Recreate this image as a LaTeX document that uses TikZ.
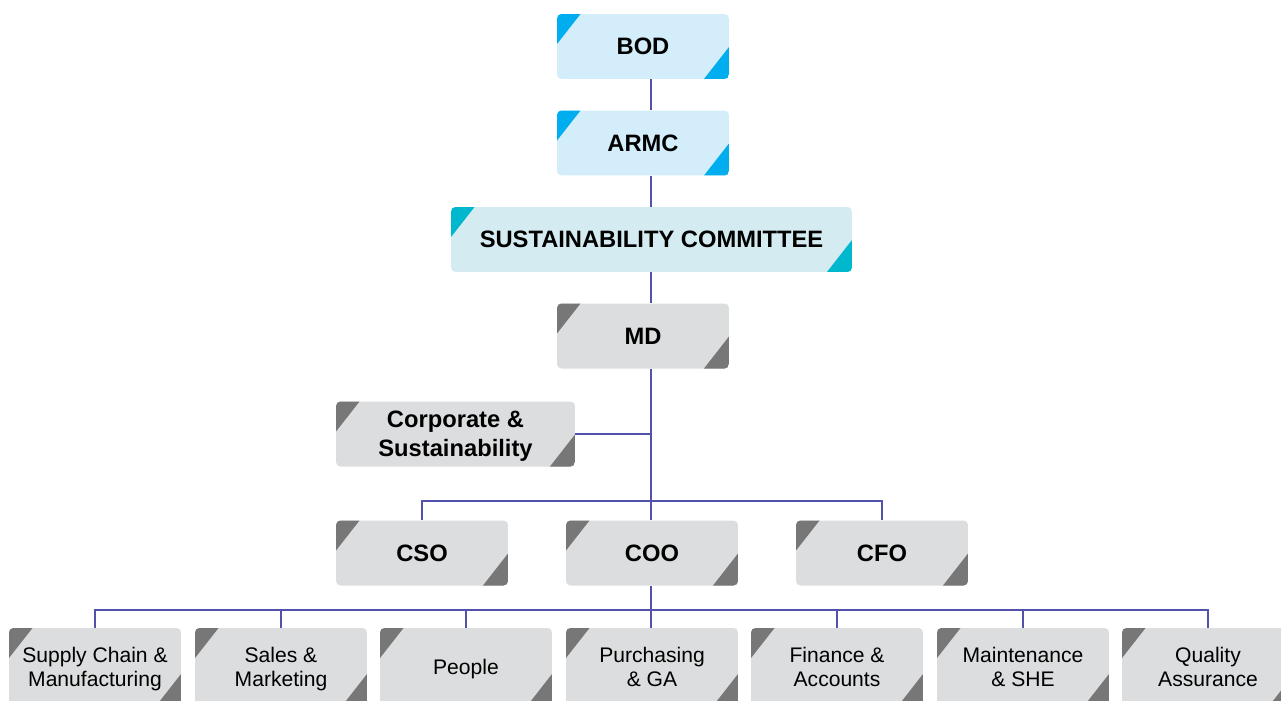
\documentclass[tikz,border=0pt]{standalone}
\usepackage{fontspec}
\setmainfont{Liberation Sans}
\usepackage{tikz}
\usetikzlibrary{positioning}
\usepackage{xcolor}

\definecolor{boardfill}{HTML}{D3EEFA}
\definecolor{boardcorner}{HTML}{00AEEF}
\definecolor{comfill}{HTML}{D4ECF1}
\definecolor{comcorner}{HTML}{00B8CE}
\definecolor{mgmtfill}{HTML}{DCDDDE}
\definecolor{mgmtcorner}{HTML}{777777}
\definecolor{linkblue}{HTML}{5252AA}

\tikzset{
    unit/.style={rectangle, rounded corners=2.5pt, inner sep=0pt, align=center,
        minimum width=3.44cm, minimum height=1.3cm,
        font=\fontsize{13.5}{16.4}\selectfont\bfseries,
        path picture={
            \fill[#1, sharp corners] (path picture bounding box.north west)
                -- ++(0.47cm,0) -- ++(-0.47cm,-0.6cm) -- cycle;
            \fill[#1, sharp corners] (path picture bounding box.south east)
                -- ++(-0.5cm,0) -- ++(0.5cm,0.64cm) -- cycle;
        }},
    board/.style={unit=boardcorner, fill=boardfill},
    committee/.style={unit=comcorner, fill=comfill},
    mgmt/.style={unit=mgmtcorner, fill=mgmtfill},
    dept/.style={mgmt, minimum height=1.56cm, text depth=0pt,
        font=\fontsize{12}{13.6}\selectfont},
    link/.style={draw=linkblue, line width=0.85pt}
}

\begin{document}
\begin{tikzpicture}[x=0.02cm, y=-0.02cm]
    \useasboundingbox (0,0) rectangle (1281,700);
    \clip (0,0) rectangle (1281,700);

    % Board level
    \node[board] (bod) at (643, 46.5) {BOD};
    \node[board] (armc) at (643, 143) {ARMC};
    \node[committee, minimum width=8.02cm] (sc) at (651.5, 239.5) {SUSTAINABILITY COMMITTEE};

    % Management
    \node[mgmt] (md) at (643, 336) {MD};
    \node[mgmt, minimum width=4.78cm, text depth=-3.4pt] (corp) at (455.5, 434) {Corporate \&\\Sustainability};
    \node[mgmt] (cso) at (422, 553) {CSO};
    \node[mgmt] (coo) at (652, 553) {COO};
    \node[mgmt] (cfo) at (882, 553) {CFO};

    % Departments
    \node[dept] (scm) at (95, 667) {Supply Chain \&\\Manufacturing};
    \node[dept] (sal) at (281, 667) {Sales \&\\Marketing};
    \node[dept] (ppl) at (466, 667) {People};
    \node[dept] (pur) at (652, 667) {Purchasing\\\& GA};
    \node[dept] (fin) at (837, 667) {Finance \&\\Accounts};
    \node[dept] (mnt) at (1023, 667) {Maintenance\\\& SHE};
    \node[dept] (qa) at (1208, 667) {Quality\\Assurance};

    % Reporting lines
    \coordinate (trunk) at (651, 0);
    \coordinate (split) at (651, 501);
    \coordinate (bus) at (651, 610);
    \draw[link] (bod.south -| trunk) -- (armc.north -| trunk);
    \draw[link] (armc.south -| trunk) -- (sc.north -| trunk);
    \draw[link] (sc.south -| trunk) -- (md.north -| trunk);
    \draw[link] (md.south -| trunk) -- (coo.north -| trunk);
    \draw[link] (corp.east) -- (corp.east -| trunk);
    \draw[link] (cso.north) |- (split) -| (cfo.north);
    \draw[link] (coo.south -| trunk) -- (pur.north -| trunk);
    \draw[link] (scm.north) |- (bus) -| (qa.north);
    \foreach \d in {sal, ppl, fin, mnt} {
        \draw[link] (\d.north) -- (\d.north |- bus);
    }
\end{tikzpicture}
\end{document}
